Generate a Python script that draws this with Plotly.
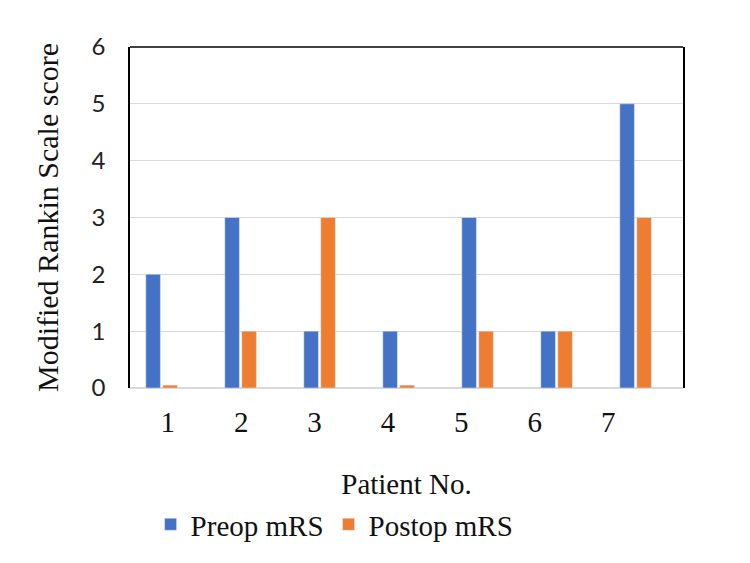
import plotly.graph_objects as go

patients = ["1", "2", "3", "4", "5", "6", "7"]
preop = [2, 3, 1, 1, 3, 1, 5]
postop = [0.05, 1, 3, 0.05, 1, 1, 3]
y_ticks = [0, 1, 2, 3, 4, 5, 6]

fig = go.Figure()
fig.add_trace(go.Bar(x=patients, y=preop, name="Preop mRS", marker_color="#4472C4",
                     offset=-0.30, width=0.185))
fig.add_trace(go.Bar(x=patients, y=postop, name="Postop mRS", marker_color="#ED7D31",
                     offset=-0.085, width=0.185))
# invisible carrier for the category tick labels (drawn on a slightly narrower axis, as in the original)
fig.add_trace(go.Scatter(x=patients, y=preop, xaxis="x2", yaxis="y2", mode="none",
                         showlegend=False, hoverinfo="skip"))

sans = dict(family="Lato", size=24, color="#222")
serif = dict(family="Liberation Serif", size=29, color="#111")

fig.update_layout(
    width=750, height=563,
    margin=dict(l=130, r=67, t=47, b=175),
    paper_bgcolor="white", plot_bgcolor="rgba(0,0,0,0)",
    barmode="overlay",
    showlegend=True,
    legend=dict(orientation="h", x=0.37, xanchor="center", y=-0.40, yanchor="middle",
                font=serif, traceorder="normal"),
    xaxis=dict(type="category", showticklabels=False, showline=False, ticks="",
               range=[-0.5, 6.5],
               title=dict(text="Patient No.", font=serif, standoff=85)),
    xaxis2=dict(type="category", anchor="y2", side="bottom",
                domain=[0.002, 0.931], range=[-0.5, 6.5],
                tickfont=serif, showgrid=False, zeroline=False, showline=False,
                ticks="", ticklabelstandoff=14),
    yaxis2=dict(anchor="x2", domain=[0, 1], range=[0, 6], visible=False,
                showgrid=False, zeroline=False),
    yaxis=dict(range=[0, 6], tickvals=y_ticks, tickfont=sans,
               showgrid=True, gridcolor="#d9d9d9", gridwidth=1,
               zeroline=True, zerolinecolor="#d9d9d9",
               showline=True, linecolor="black", linewidth=1.5, mirror=True,
               ticks="", ticklabelstandoff=18,
               title=dict(text="Modified Rankin Scale score",
                          font=dict(family="Liberation Serif", size=30, color="#111"),
                          standoff=24)),
    shapes=[dict(type="line", xref="paper", yref="paper", x0=0, x1=1, y0=1, y1=1,
                 line=dict(color="black", width=1.5))],
)

fig.write_html("out.html")
